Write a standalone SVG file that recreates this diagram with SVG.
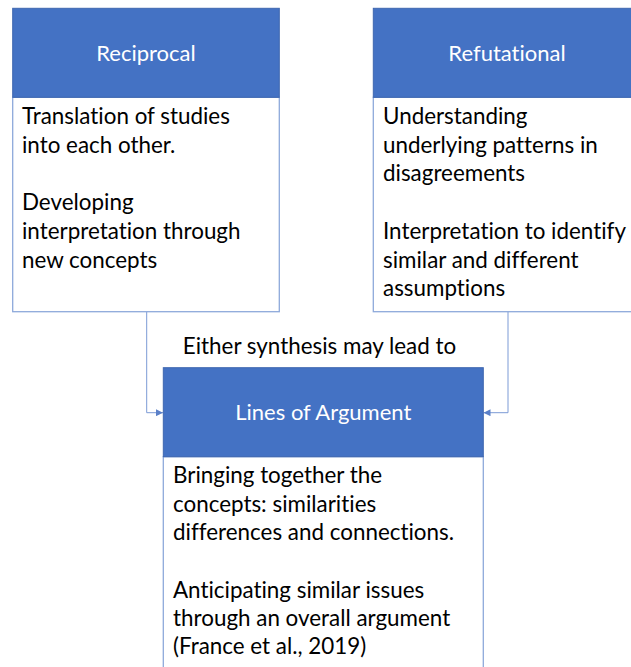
<svg xmlns="http://www.w3.org/2000/svg" width="631" height="667" viewBox="0 0 631 667">
<style>
.hdr{fill:#4472C4;stroke:#3F67B0;stroke-width:1}
.body{fill:#FFFFFF;stroke:#8EA9DB;stroke-width:1.3}
.ht{font-family:Lato,"Liberation Sans",sans-serif;font-size:22px;fill:#FFFFFF;text-anchor:middle;font-variant-ligatures:none}
.bt{font-family:Lato,"Liberation Sans",sans-serif;font-size:22.4px;fill:#000000;font-variant-ligatures:none}
.conn{fill:none;stroke:#7C9BD6;stroke-width:1}
</style>
<defs>
<marker id="arr" viewBox="0 0 10 10" refX="10" refY="5" markerWidth="7" markerHeight="7" orient="auto" markerUnits="userSpaceOnUse">
<path d="M0,0 L10,5 L0,10 Z" fill="#5B80C8"/>
</marker>
</defs>
<rect width="631" height="667" fill="#FFFFFF"/>
<g id="connectors">
<path class="conn" d="M146.7,311.7 V412.7 H163" marker-end="url(#arr)"/>
<path class="conn" d="M508,311.7 V412.7 H483.5" marker-end="url(#arr)"/>
</g>
<g id="reciprocal">
<rect class="body" x="12.7" y="97.3" width="266.6" height="214.4"/>
<rect class="hdr" x="12.7" y="8.3" width="266.6" height="89"/>
<text class="ht" x="146" y="61">Reciprocal</text>
<text class="bt" x="22" y="124">Translation of studies</text>
<text class="bt" x="22" y="152.5">into each other.</text>
<text class="bt" x="22" y="210">Developing</text>
<text class="bt" x="22" y="238.5">interpretation through</text>
<text class="bt" x="22" y="267.5">new concepts</text>
</g>
<g id="refutational">
<rect class="body" x="373.3" y="97.3" width="266.6" height="214.4"/>
<rect class="hdr" x="373.3" y="8.3" width="266.6" height="89"/>
<text class="ht" x="507" y="61">Refutational</text>
<text class="bt" x="383" y="124">Understanding</text>
<text class="bt" x="383" y="152.5">underlying patterns in</text>
<text class="bt" x="383" y="181">disagreements</text>
<text class="bt" x="383" y="238.5">Interpretation to identify</text>
<text class="bt" x="383" y="267.5">similar and different</text>
<text class="bt" x="383" y="296">assumptions</text>
</g>
<g id="label">
<text class="bt" x="319.5" y="354" text-anchor="middle">Either synthesis may lead to</text>
</g>
<g id="lines-of-argument">
<rect class="body" x="163.3" y="456.7" width="320" height="230"/>
<rect class="hdr" x="163.3" y="367.7" width="320" height="89"/>
<text class="ht" x="323.3" y="420">Lines of Argument</text>
<text class="bt" x="173" y="482.5">Bringing together the</text>
<text class="bt" x="173" y="511.5">concepts: similarities</text>
<text class="bt" x="173" y="540">differences and connections.</text>
<text class="bt" x="173" y="597.5">Anticipating similar issues</text>
<text class="bt" x="173" y="626">through an overall argument</text>
<text class="bt" x="173" y="654">(France et al., 2019)</text>
</g>
</svg>
